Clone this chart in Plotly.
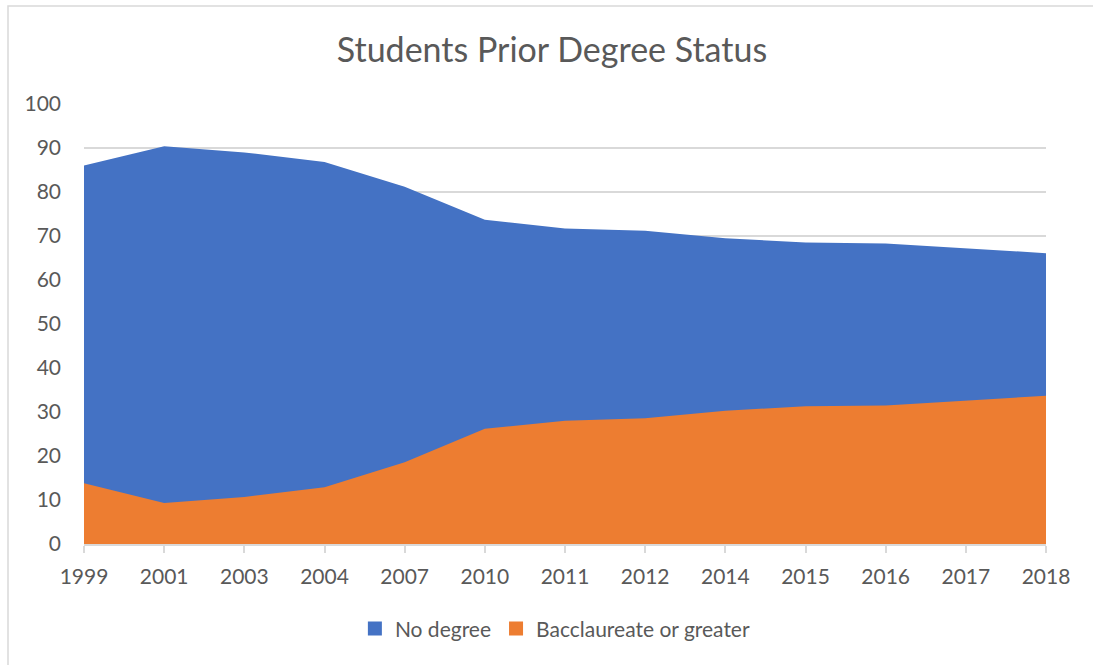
import plotly.graph_objects as go

years = ["1999", "2001", "2003", "2004", "2007", "2010", "2011", "2012",
         "2014", "2015", "2016", "2017", "2018"]
no_degree = [86.0, 90.4, 89.0, 86.8, 81.2, 73.7, 71.7, 71.2, 69.5, 68.5, 68.3, 67.2, 66.1]
bacc_or_greater = [13.8, 9.3, 10.7, 12.9, 18.6, 26.2, 28.0, 28.6, 30.3, 31.3, 31.5, 32.6, 33.7]

BLUE = "#4472C4"
ORANGE = "#ED7D31"
TXT = "#595959"
GRID = "#D9D9D9"
FONT = "Lato"

fig = go.Figure()
fig.add_trace(go.Scatter(x=years, y=no_degree, name="No degree", mode="lines",
                         line=dict(width=0, color=BLUE), fill="tozeroy",
                         fillcolor=BLUE, showlegend=False))
fig.add_trace(go.Scatter(x=years, y=bacc_or_greater, name="Bacclaureate or greater",
                         mode="lines", line=dict(width=0, color=ORANGE),
                         fill="tozeroy", fillcolor=ORANGE, showlegend=False))
# legend entries with square keys
fig.add_trace(go.Scatter(x=[None], y=[None], name="No degree", mode="markers",
                         marker=dict(symbol="square", size=14, color=BLUE)))
fig.add_trace(go.Scatter(x=[None], y=[None], name="Bacclaureate or greater", mode="markers",
                         marker=dict(symbol="square", size=14, color=ORANGE)))

fig.update_layout(
    width=1093, height=665,
    margin=dict(l=84, r=47, t=104, b=121),
    paper_bgcolor="white", plot_bgcolor="white",
    font=dict(family=FONT, color=TXT, size=21),
    title=dict(text="Students Prior Degree Status", x=0.505, xanchor="center",
               y=1 - 50 / 665, yanchor="middle",
               font=dict(family=FONT, size=34, color=TXT)),
    showlegend=True,
    legend=dict(orientation="h", x=0.49, xanchor="center", y=-0.193, yanchor="middle",
                font=dict(family=FONT, size=21, color=TXT), itemwidth=30,
                tracegroupgap=0),
    shapes=[dict(type="rect", xref="paper", yref="paper",
                 x0=-0.079, x1=1.2, y0=-0.5, y1=1.2227,
                 line=dict(color=GRID, width=1.5), layer="below")],
)
fig.update_xaxes(type="category", range=[0, 12], showgrid=False,
                 showline=True, linecolor=GRID, linewidth=1.5,
                 ticks="outside", ticklen=7, tickcolor=GRID, tickwidth=1.5,
                 tickfont=dict(family=FONT, size=21, color=TXT), ticklabelstandoff=6)
fig.update_yaxes(range=[0, 100], dtick=10, showgrid=True, gridcolor=GRID, gridwidth=1.5,
                 zeroline=False, showline=False,
                 tickfont=dict(family=FONT, size=21, color=TXT), ticklabelstandoff=22)

fig.write_html("out.html", config={"displayModeBar": False},
               post_script="document.body.style.margin='0px';")
